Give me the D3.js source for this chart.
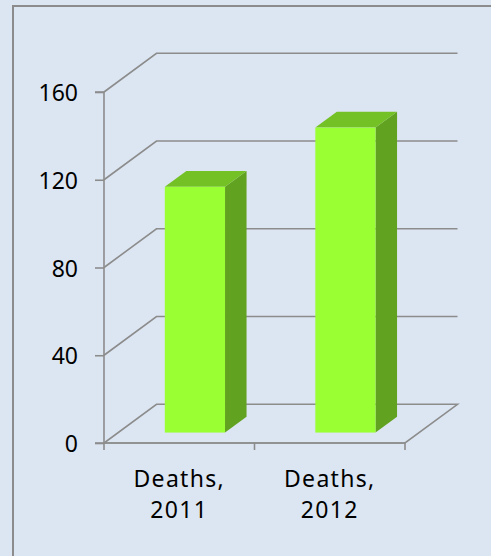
<!DOCTYPE html>
<html>
<head>
<meta charset="utf-8">
<script src="https://cdn.jsdelivr.net/npm/d3@7"></script>
<style>
  html, body { margin: 0; padding: 0; background: #dce6f2; overflow: hidden; }
  svg { display: block; }
</style>
</head>
<body>
<svg id="chart" width="491" height="556"></svg>
<script>
// ---- data ----
const categories = ["Deaths, 2011", "Deaths, 2012"];
const deaths = [112, 139];
const yTicks = [0, 40, 80, 120, 160];

// ---- layout ----
const W = 491, H = 556;
const svg = d3.select("#chart");
const gridColor = "#8c8c8c";
const font = "'Noto Sans', 'DejaVu Sans', sans-serif";

svg.append("rect").attr("width", W).attr("height", H).attr("fill", "#dce6f2");
// outer frame (extends beyond right and bottom edges)
svg.append("rect").attr("x", 13).attr("y", 6).attr("width", 700).attr("height", 700)
  .attr("fill", "none").attr("stroke", gridColor).attr("stroke-width", 2);

const x0 = 104, x1 = 405;
const y = d3.scaleLinear().domain([0, 160]).range([443, 92]);
const x = d3.scaleBand().domain(categories).range([x0, x1]).paddingInner(0).paddingOuter(0);
const dx = 52.5, dy = -38.7;        // depth offset of back wall
const zf = 0.27, zb = 0.68;         // bar front/back depth fractions
const barW = x.bandwidth() * 0.4;

const g = svg.append("g");

// floor
const f0 = y(0);
g.append("path")
  .attr("d", `M${x0},${f0}L${x1},${f0}L${x1 + dx},${f0 + dy}L${x0 + dx},${f0 + dy}Z`)
  .attr("fill", "none").attr("stroke", gridColor).attr("stroke-width", 1.6);

// gridlines on side + back walls
yTicks.filter(t => t > 0).forEach(t => {
  const yy = y(t);
  g.append("path")
    .attr("d", `M${x0},${yy}L${x0 + dx},${yy + dy}L${x1 + dx},${yy + dy}`)
    .attr("fill", "none").attr("stroke", gridColor).attr("stroke-width", 1.6);
});

// value axis
const yAxis = d3.axisLeft(y).tickValues(yTicks).tickSize(9).tickPadding(17);
const ya = g.append("g").attr("transform", `translate(${x0},0)`).call(yAxis);
ya.select(".domain").attr("stroke", gridColor).attr("stroke-width", 1.6)
  .attr("d", `M-9,${y(160)}H0V${y(0)}H-9`);
ya.selectAll(".tick line").attr("stroke", gridColor).attr("stroke-width", 1.6);
ya.selectAll(".tick text").attr("fill", "#000").attr("dy", "0.37em")
  .style("font-family", font).style("font-size", "23px");

// category axis
const xa = g.append("g").attr("transform", `translate(0,${y(0)})`);
xa.append("line").attr("x1", x0).attr("x2", x1).attr("stroke", gridColor).attr("stroke-width", 1.6);
[x0, x0 + x.bandwidth(), x1].forEach(px => {
  xa.append("line").attr("x1", px).attr("x2", px).attr("y1", 0).attr("y2", 7)
    .attr("stroke", gridColor).attr("stroke-width", 1.6);
});
categories.forEach(c => {
  const parts = c.split(" ");
  const cx = x(c) + x.bandwidth() / 2;
  const t = xa.append("text").attr("text-anchor", "middle").attr("fill", "#000")
    .style("font-family", font).style("font-size", "23px").style("letter-spacing", "1.3px");
  t.append("tspan").attr("x", cx).attr("y", 44).text(parts[0]);
  t.append("tspan").attr("x", cx).attr("y", 75).text(parts[1]);
});

// bars
const ddx = (zb - zf) * dx, ddy = (zb - zf) * dy;
deaths.forEach((v, i) => {
  const c = categories[i];
  const bx = x(c) + x.bandwidth() / 2 - barW / 2 + zf * dx + 1.5;
  const yb = y(0) + zf * dy;
  const yt = y(v) + zf * dy;
  // side
  g.append("path")
    .attr("d", `M${bx + barW},${yt}L${bx + barW + ddx},${yt + ddy}L${bx + barW + ddx},${yb + ddy}L${bx + barW},${yb}Z`)
    .attr("fill", "#62a221");
  // top
  g.append("path")
    .attr("d", `M${bx},${yt}L${bx + ddx},${yt + ddy}L${bx + barW + ddx},${yt + ddy}L${bx + barW},${yt}Z`)
    .attr("fill", "#74c125");
  // front
  g.append("rect").attr("x", bx).attr("y", yt).attr("width", barW).attr("height", yb - yt)
    .attr("fill", "#9aff33");
});
</script>
</body>
</html>
